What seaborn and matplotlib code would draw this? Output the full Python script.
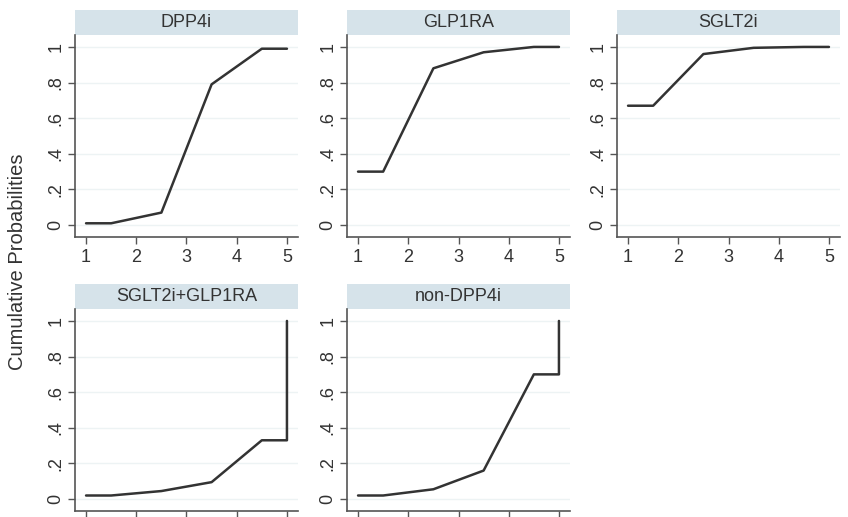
"""
Cumulative probabilities per treatment group, Stata-style small multiples.
"""

import pandas as pd
import seaborn as sns
import matplotlib.pyplot as plt
from matplotlib.patches import Rectangle

# data
groups = ['DPP4i', 'GLP1RA', 'SGLT2i', 'SGLT2i+GLP1RA', 'non-DPP4i']
x_top = [1, 1.5, 2.5, 3.5, 4.5, 5]
x_bottom = [1, 1.5, 2.5, 3.5, 4.5, 5, 5]
dpp4i = [0.01, 0.01, 0.07, 0.79, 0.99, 0.99]
glp1ra = [0.30, 0.30, 0.88, 0.97, 1.0, 1.0]
sglt2i = [0.67, 0.67, 0.96, 0.995, 1.0, 1.0]
sglt2i_glp1ra = [0.02, 0.02, 0.045, 0.095, 0.33, 0.33, 1.0]
non_dpp4i = [0.02, 0.02, 0.055, 0.16, 0.70, 0.70, 1.0]
y_ticks = [0, 0.2, 0.4, 0.6, 0.8, 1]
y_tick_labels = ['0', '.2', '.4', '.6', '.8', '1']
x_ticks = [1, 2, 3, 4, 5]

series = [(x_top, dpp4i), (x_top, glp1ra), (x_top, sglt2i),
          (x_bottom, sglt2i_glp1ra), (x_bottom, non_dpp4i)]
rows = []
for g, (xs, ys) in zip(groups, series):
    for i, (xv, yv) in enumerate(zip(xs, ys)):
        rows.append({'group': g, 'order': i, 'x': xv, 'y': yv})
df = pd.DataFrame(rows)

sns.set_style('white')
plt.rcParams['font.family'] = ['Liberation Sans', 'DejaVu Sans']

W, H = 848, 517
fig = plt.figure(figsize=(W / 100, H / 100), dpi=100)

# panel pixel boxes: left, top, width, height
lefts = [75, 347, 617, 75, 347]
tops = [35, 35, 35, 309, 309]
pw, ph = 223, 202
header_h = 25
header_col = '#d6e3ea'
line_col = '#333333'
spine_col = '#555555'

for k, (g, l, t) in enumerate(zip(groups, lefts, tops)):
    ax = fig.add_axes([l / W, 1 - (t + ph) / H, pw / W, ph / H])
    sub = df[df['group'] == g].sort_values('order')
    sns.lineplot(data=sub, x='x', y='y', sort=False, estimator=None,
                 color=line_col, linewidth=1.8, ax=ax)
    ax.set_xlim(0.78, 5.22)
    ax.set_ylim(-0.067, 1.067)
    ax.set_yticks(y_ticks)
    ax.set_yticklabels(y_tick_labels, rotation=90, va='center')
    ax.set_xticks(x_ticks)
    ax.set_xlabel('')
    ax.set_ylabel('')
    ax.grid(axis='y', color='#edf3f4', linewidth=1.0)
    ax.grid(axis='x', visible=False)
    for s in ['top', 'right']:
        ax.spines[s].set_visible(False)
    for s in ['left', 'bottom']:
        ax.spines[s].set_color(spine_col)
        ax.spines[s].set_linewidth(1.2)
    ax.tick_params(axis='both', direction='out', length=5, width=1,
                   color=spine_col, labelsize=13, labelcolor='#333333',
                   left=True, bottom=True)
    ax.tick_params(axis='y', pad=2.5)
    ax.tick_params(axis='x', pad=4)
    # bottom row tick labels fall below the crop of the reference
    if k >= 3:
        ax.tick_params(axis='x', labelbottom=False)
    ax.add_patch(Rectangle((0, 1), 1, header_h / ph, transform=ax.transAxes,
                           facecolor=header_col, edgecolor='none', clip_on=False))
    ax.text(0.5, 1 + header_h / ph / 2, g, transform=ax.transAxes,
            ha='center', va='center', fontsize=13, color='#333333')

fig.text(18 / W, 1 - 262 / H, 'Cumulative Probabilities', rotation=90,
         ha='center', va='center', fontsize=14.5, color='#333333')

fig.savefig('out.png', dpi=100)
